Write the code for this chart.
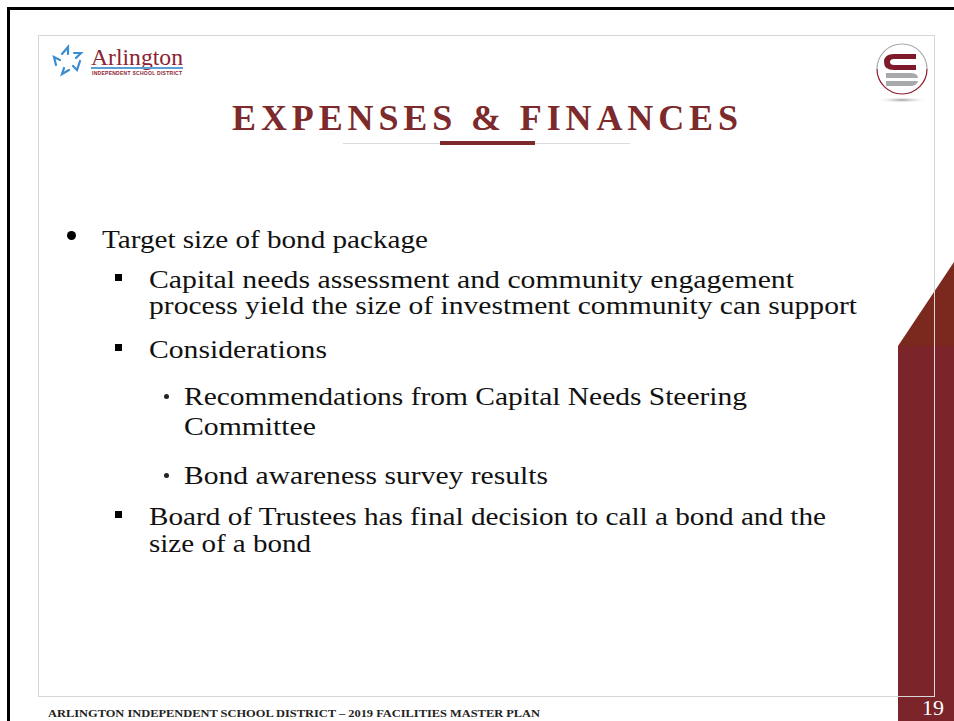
<!DOCTYPE html>
<html>
<head>
<meta charset="utf-8">
<script src="https://cdn.jsdelivr.net/npm/chart.js@4"></script>
<style>
  html, body { margin: 0; padding: 0; background: #fff; }
  body { width: 954px; height: 721px; position: relative; overflow: hidden;
         font-family: "Liberation Serif", "DejaVu Serif", serif; color: #111; }
  .abs { position: absolute; }
  .line { position: absolute; white-space: nowrap; line-height: 1; transform-origin: 0 0; }
</style>
</head>
<body>
<!-- black frame -->
<div class="abs" style="left:7px;top:7px;width:960px;height:3px;background:#000"></div>
<div class="abs" style="left:7px;top:7px;width:3px;height:730px;background:#000"></div>

<!-- red side panel -->
<svg class="abs" style="left:0;top:0" width="954" height="721">
  <polygon points="898,346 954,262 954,346" fill="#7B291F"/>
  <rect x="898" y="346" width="56" height="375" fill="#7B252A"/>
</svg>

<!-- inner light frame -->
<div class="abs" style="left:38px;top:35px;width:897px;height:662px;border:1px solid #d6d6d6;box-sizing:border-box"></div>

<!-- Arlington logo -->
<svg class="abs" style="left:50px;top:44px" width="40" height="36" viewBox="0 0 40 36">
  <g fill="none" stroke="#3b8dd0" stroke-width="2.2" stroke-linecap="round">
    <path d="M12 10 L18 3 L18 10"/>
    <path d="M24 9 L31 9 L26 14"/>
    <path d="M30 17 L27 26 L23 22"/>
    <path d="M19 26 L12 30 L14 24"/>
    <path d="M6 21 L4 13 L10 16"/>
  </g>
</svg>
<div class="line" id="arl" style="left:91px;color:#8c2434;font-size:23px"></div>
<div class="abs" style="left:91px;top:67px;width:92px;height:2px;background:#5a9fd6"></div>
<div class="line" id="arlSub" style="left:91px;color:#8c2434;font-size:5px;font-weight:bold;font-family:'Liberation Sans',sans-serif"></div>

<!-- right logo -->
<svg class="abs" style="left:872px;top:40px" width="60" height="70" viewBox="0 0 60 70">
  <defs>
    <radialGradient id="sh" cx="0.5" cy="0.5" r="0.5">
      <stop offset="0" stop-color="#9a9a9a"/>
      <stop offset="1" stop-color="#ffffff" stop-opacity="0"/>
    </radialGradient>
  </defs>
  <ellipse cx="30" cy="60" rx="26" ry="3" fill="url(#sh)"/>
  <path d="M5 29 A25 25 0 0 1 55 29" fill="none" stroke="#a7a9ac" stroke-width="1.2"/>
  <path d="M55 29 A25 25 0 0 1 5 29" fill="none" stroke="#8b1a2b" stroke-width="1.2"/>
  <path d="M44 14 L22 14 Q12 14 12 22 Q12 30 22 30 L44 30 L44 25 L22 25 Q18 25 18 22 Q18 19 22 19 L44 19 Z" fill="#7d1a2b"/>
  <path d="M14 33 L38 33 Q46 33 46 38 L14 38 Z" fill="#a7a9ac"/>
  <path d="M14 41 L46 41 Q45 46 38 46 L14 46 Z" fill="#a7a9ac"/>
</svg>

<!-- title -->
<div class="line" id="title" style="left:232px;color:#7c2a2b;font-size:36px;font-weight:bold"></div>
<div class="abs" style="left:343px;top:143px;width:287px;height:1px;background:#dcdcdc"></div>
<div class="abs" style="left:440px;top:141px;width:95px;height:4px;background:#7c2a2b"></div>

<div id="body"></div>

<!-- footer -->
<div class="line" id="footer" style="left:48px;font-size:11px;font-weight:bold;color:#222"></div>
<div class="line" id="pageNum" style="left:921px;font-size:22px;color:#fff"></div>

<script>
// slide text
const titleText = "EXPENSES & FINANCES";
const footerText = "ARLINGTON INDEPENDENT SCHOOL DISTRICT \u2013 2019 FACILITIES MASTER PLAN";
const pageNumber = "19";

// body lines: level, text, baseline y, right edge x
const lineLevels = [1, 2, 2, 2, 3, 3, 3, 2, 2];
const lineTexts = [
  "Target size of bond package",
  "Capital needs assessment and community engagement",
  "process yield the size of investment community can support",
  "Considerations",
  "Recommendations from Capital Needs Steering",
  "Committee",
  "Bond awareness survey results",
  "Board of Trustees has final decision to call a bond and the",
  "size of a bond"
];
const lineBaselines = [248, 288, 314, 358, 405, 435, 484, 525, 552];
const lineRights = [428, 794, 857, 327, 747, 316, 548, 826, 311];
const hasBullet = [true, true, false, true, true, false, true, true, false];

const levelX = { 1: 102, 2: 149, 3: 184 };
const FS = 25;

function place(el, text, baseline, fs, left, right, spacing) {
  el.textContent = text;
  el.style.fontSize = fs + "px";
  el.style.left = left + "px";
  el.style.top = (baseline - 0.84 * fs) + "px";
  if (right) {
    const w = el.getBoundingClientRect().width;
    if (spacing) {
      const n = text.length;
      el.style.letterSpacing = ((right - left - w) / (n - 1)) + "px";
    } else {
      el.style.transform = "scaleX(" + ((right - left) / w) + ")";
    }
  }
}

const body = document.getElementById("body");
for (let i = 0; i < lineTexts.length; i++) {
  const lvl = lineLevels[i];
  const el = document.createElement("div");
  el.className = "line";
  body.appendChild(el);
  place(el, lineTexts[i], lineBaselines[i], FS, levelX[lvl], lineRights[i], false);
  if (hasBullet[i]) {
    const b = document.createElement("div");
    b.className = "abs";
    const y = lineBaselines[i];
    if (lvl === 1) {
      b.style.cssText += "left:67px;top:" + (y - 17) + "px;width:9px;height:9px;border-radius:50%;background:#000";
    } else if (lvl === 2) {
      b.style.cssText += "left:115px;top:" + (y - 14) + "px;width:7px;height:7px;background:#000";
    } else {
      b.style.cssText += "left:164px;top:" + (y - 11) + "px;width:5px;height:5px;border-radius:50%;background:#222";
    }
    body.appendChild(b);
  }
}

place(document.getElementById("title"), titleText, 130, 36, 232, 738, true);
place(document.getElementById("arl"), "Arlington", 65, 23, 91, 183, false);
place(document.getElementById("arlSub"), "INDEPENDENT SCHOOL DISTRICT", 75, 5, 92, 182, true);
place(document.getElementById("footer"), footerText, 717, 11, 48, 540, false);
place(document.getElementById("pageNum"), pageNumber, 716, 21, 922, 944, false);
</script>
</body>
</html>
